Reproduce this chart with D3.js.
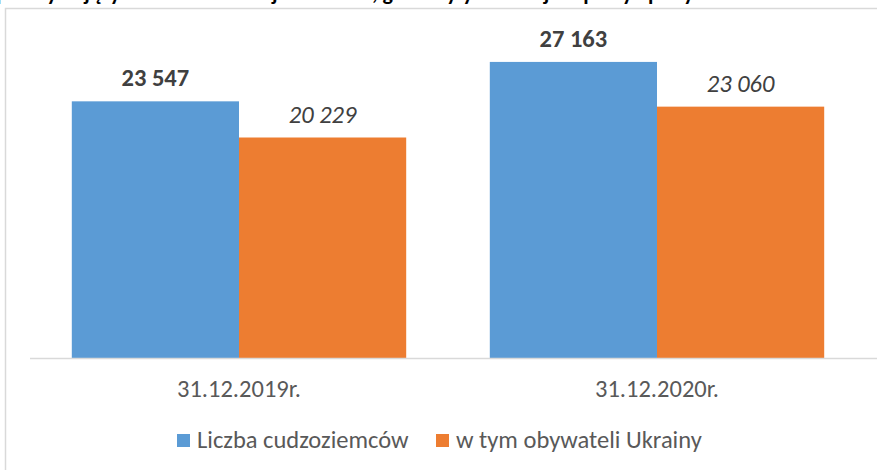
<!DOCTYPE html>
<html><head><meta charset="utf-8">
<script src="https://cdn.jsdelivr.net/npm/d3@7"></script>
<style>
html,body{margin:0;padding:0;background:#fff;}
svg{display:block;font-family:Carlito, Lato, "Open Sans", sans-serif;}
</style></head>
<body>
<script>
const categories = ["31.12.2019r.", "31.12.2020r."];
const seriesNames = ["Liczba cudzoziemców", "w tym obywateli Ukrainy"];
const foreigners = [23547, 27163];
const ukrainians = [20229, 23060];
const labelFmt = ["23 547", "27 163"];
const labelFmtUa = ["20 229", "23 060"];
const title = "przebywających na terenie województwa, gdzie były ich miejsca pracy i pobytu w latach";

const W = 877, H = 470;
const colors = ["#5b9bd5", "#ed7d31"];
const FS = 24.5;
const svg = d3.select("body").append("svg").attr("width", W).attr("height", H);

// chart border
svg.append("path").attr("d", `M5.5,${H} L5.5,8.5 L${W},8.5`)
  .attr("fill","none").attr("stroke","#d9d9d9").attr("stroke-width",1.5);

// cropped title (cut by the top edge, as in the reference)
svg.append("text").attr("x", -4).attr("y", 0).attr("font-weight","bold")
  .attr("font-size", 22).attr("fill","#000").text(title);

const plot = {left:30, right:866, top:31, bottom:358};
const x0 = d3.scaleBand().domain(categories).range([plot.left, plot.right]).paddingInner(0).paddingOuter(0);
const x1 = d3.scaleBand().domain([0,1]).range([0, x0.bandwidth()]).paddingInner(0).paddingOuter(0.25);
const y = d3.scaleLinear().domain([0, 30000]).range([plot.bottom, plot.top]);

const data = categories.map((c,i)=>({c, vals:[foreigners[i], ukrainians[i]], labs:[labelFmt[i], labelFmtUa[i]]}));

const g = svg.append("g");
data.forEach(d=>{
  d.vals.forEach((v,j)=>{
    g.append("rect").attr("x", x0(d.c)+x1(j)).attr("width", x1.bandwidth())
      .attr("y", y(v)).attr("height", y(0)-y(v)).attr("fill", colors[j]);
    g.append("text").attr("x", x0(d.c)+x1(j)+x1.bandwidth()/2).attr("y", y(v)-15)
      .attr("text-anchor","middle").attr("font-size",FS)
      .attr("font-weight", j===0?"bold":"normal").attr("font-style", j===0?"normal":"italic")
      .attr("fill","#404040").text(d.labs[j]);
  });
});

// x axis
const xAxis = d3.axisBottom(x0).tickSize(0).tickPadding(22);
const ax = svg.append("g").attr("transform",`translate(0,${plot.bottom})`).call(xAxis);
ax.select(".domain").attr("stroke","#d9d9d9").attr("stroke-width",1.5).attr("d",`M${plot.left},0.5H${W}`);
ax.selectAll("text").attr("font-size",FS).attr("fill","#595959").attr("font-family","Carlito, Lato, sans-serif");

// legend
const leg = svg.append("g");
const legX = [177, 436];
seriesNames.forEach((n,i)=>{
  leg.append("rect").attr("x", legX[i]).attr("y", 434).attr("width",13).attr("height",13).attr("fill",colors[i]);
  leg.append("text").attr("x", legX[i]+20).attr("y", 448).attr("font-size",FS).attr("fill","#595959").text(n);
});
</script>
</body></html>
